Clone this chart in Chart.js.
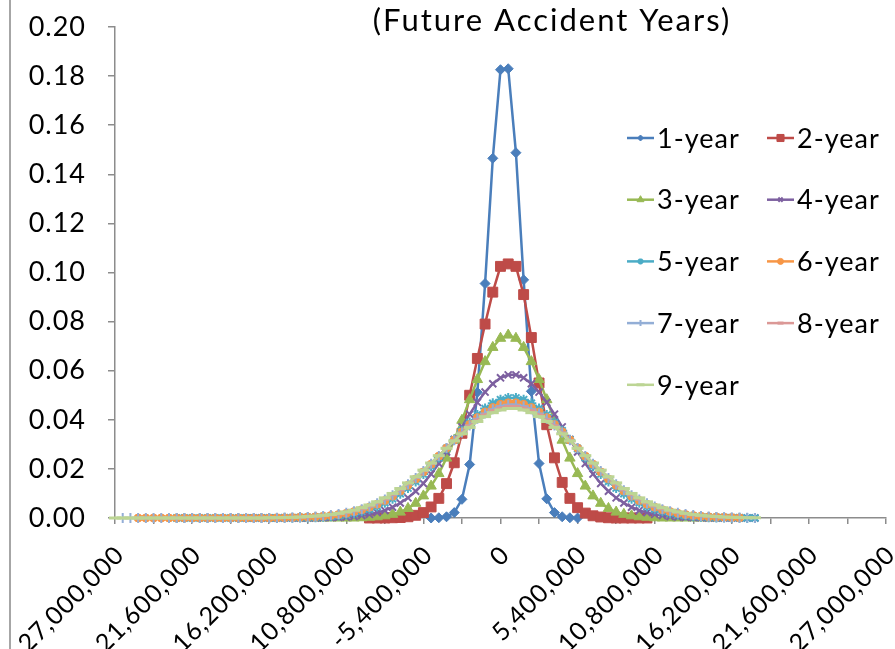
<!DOCTYPE html>
<html>
<head>
<meta charset="utf-8">
<script src="https://cdn.jsdelivr.net/npm/chart.js@4/dist/chart.umd.min.js"></script>
<style>
  html, body { margin: 0; padding: 0; background: #fff; }
  canvas { display: block; }
</style>
</head>
<body>
<canvas id="c" width="895" height="649"></canvas>
<script>
// Shared x grid: loss outcomes in steps of 540,000
const xs = [
  -27000000, -26460000, -25920000, -25380000, -24840000, -24300000, -23760000, -23220000, -22680000, -22140000,
  -21600000, -21060000, -20520000, -19980000, -19440000, -18900000, -18360000, -17820000, -17280000, -16740000,
  -16200000, -15660000, -15120000, -14580000, -14040000, -13500000, -12960000, -12420000, -11880000, -11340000,
  -10800000, -10260000, -9720000, -9180000, -8640000, -8100000, -7560000, -7020000, -6480000, -5940000,
  -5400000, -4860000, -4320000, -3780000, -3240000, -2700000, -2160000, -1620000, -1080000, -540000,
  0, 540000, 1080000, 1620000, 2160000, 2700000, 3240000, 3780000, 4320000, 4860000,
  5400000, 5940000, 6480000, 7020000, 7560000, 8100000, 8640000, 9180000, 9720000, 10260000,
  10800000, 11340000, 11880000, 12420000, 12960000, 13500000, 14040000, 14580000, 15120000, 15660000,
  16200000, 16740000, 17280000, 17820000
];

const seriesNames = ['1-year', '2-year', '3-year', '4-year', '5-year', '6-year', '7-year', '8-year', '9-year'];

// First x value covered by each series
const firstX = [-4860000, -9180000, -14040000, -17820000, -22680000, -25380000, -26460000, -25380000, -27000000];

const year1 = [0, 0.0001, 0.0005, 0.0022, 0.0076, 0.0218, 0.0512, 0.0955, 0.1465, 0.1826, 0.1830, 0.1488, 0.0970, 0.0516, 0.0222, 0.0078, 0.0022, 0.0005, 0.0001, 0];

const year2 = [0, 0, 0, 0.0001, 0.0002, 0.0005, 0.0011, 0.0022, 0.0045, 0.0080, 0.0140, 0.0225, 0.0345, 0.0500, 0.0650, 0.0790, 0.0920, 0.1025, 0.1035, 0.1025,
  0.0910, 0.0735, 0.0550, 0.0380, 0.0245, 0.0145, 0.0080, 0.0042, 0.0020, 0.0009, 0.0004, 0.0001, 0, 0, 0, 0, 0];

const year3 = [0, 0, 0, 0, 0, 0, 0, 0,
  0.0001, 0.0003, 0.0005, 0.0009, 0.0015, 0.0024, 0.0039, 0.0060, 0.0090, 0.0130, 0.0181, 0.0244, 0.0317, 0.0398, 0.0482, 0.0564, 0.0637, 0.0695, 0.0732, 0.0745,
  0.0732, 0.0695, 0.0637, 0.0564, 0.0482, 0.0398, 0.0317, 0.0244, 0.0181, 0.0130, 0.0090, 0.0060, 0.0039, 0.0024, 0.0015, 0.0009, 0.0005, 0.0003, 0.0001,
  0, 0, 0, 0, 0, 0, 0, 0];

const year4 = [0, 0, 0, 0, 0, 0, 0, 0, 0, 0,
  0.0001, 0.0002, 0.0003, 0.0004, 0.0006, 0.0010, 0.0015, 0.0022, 0.0031, 0.0044, 0.0061, 0.0082, 0.0109, 0.0141, 0.0179, 0.0222, 0.0269, 0.0320, 0.0371, 0.0423, 0.0471, 0.0513, 0.0547, 0.0571, 0.0583,
  0.0583, 0.0571, 0.0547, 0.0513, 0.0471, 0.0423, 0.0371, 0.0320, 0.0269, 0.0222, 0.0179, 0.0141, 0.0109, 0.0082, 0.0061, 0.0044, 0.0031, 0.0022, 0.0015, 0.0010, 0.0006, 0.0004, 0.0003, 0.0002, 0.0001,
  0, 0, 0, 0, 0, 0, 0];

const year5 = [0, 0, 0, 0, 0, 0, 0, 0, 0, 0, 0, 0, 0, 0,
  0.0001, 0.0001, 0.0002, 0.0002, 0.0003, 0.0005, 0.0007, 0.0010, 0.0014, 0.0020, 0.0027, 0.0036, 0.0047, 0.0062, 0.0078, 0.0099, 0.0122, 0.0149, 0.0179, 0.0211, 0.0246, 0.0283, 0.0319, 0.0355, 0.0389, 0.0420, 0.0446, 0.0467, 0.0482, 0.0489,
  0.0489, 0.0482, 0.0467, 0.0446, 0.0420, 0.0389, 0.0355, 0.0319, 0.0283, 0.0246, 0.0211, 0.0179, 0.0149, 0.0122, 0.0099, 0.0078, 0.0062, 0.0047, 0.0036, 0.0027, 0.0020, 0.0014, 0.0010, 0.0007, 0.0005, 0.0003, 0.0002, 0.0002, 0.0001, 0.0001,
  0, 0];

const year6 = [0, 0, 0, 0, 0, 0, 0, 0, 0, 0, 0, 0, 0, 0, 0, 0, 0, 0,
  0.0001, 0.0001, 0.0002, 0.0003, 0.0004, 0.0005, 0.0007, 0.0010, 0.0014, 0.0019, 0.0026, 0.0034, 0.0044, 0.0056, 0.0071, 0.0089, 0.0110, 0.0133, 0.0159, 0.0188, 0.0219, 0.0252, 0.0285, 0.0318, 0.0351, 0.0381, 0.0409, 0.0432, 0.0450, 0.0463, 0.0469,
  0.0469, 0.0463, 0.0450, 0.0432, 0.0409, 0.0381, 0.0351, 0.0318, 0.0285, 0.0252, 0.0219, 0.0188, 0.0159, 0.0133, 0.0110, 0.0089, 0.0071, 0.0056, 0.0044, 0.0034, 0.0026, 0.0019, 0.0014, 0.0010, 0.0007, 0.0005, 0.0004, 0.0003, 0.0002, 0.0001];

const year7 = [0, 0, 0, 0, 0, 0, 0, 0, 0, 0, 0, 0, 0, 0, 0, 0, 0, 0, 0, 0,
  0.0001, 0.0001, 0.0002, 0.0003, 0.0004, 0.0006, 0.0008, 0.0012, 0.0016, 0.0021, 0.0028, 0.0036, 0.0047, 0.0060, 0.0075, 0.0093, 0.0113, 0.0137, 0.0163, 0.0191, 0.0221, 0.0253, 0.0285, 0.0317, 0.0348, 0.0377, 0.0404, 0.0426, 0.0443, 0.0455, 0.0461,
  0.0461, 0.0455, 0.0443, 0.0426, 0.0404, 0.0377, 0.0348, 0.0317, 0.0285, 0.0253, 0.0221, 0.0191, 0.0163, 0.0137, 0.0113, 0.0093, 0.0075, 0.0060, 0.0047, 0.0036, 0.0028, 0.0021, 0.0016, 0.0012, 0.0008, 0.0006, 0.0004, 0.0003, 0.0002, 0.0001, 0.0001, 0];

const year8 = [0, 0, 0, 0, 0, 0, 0, 0, 0, 0, 0, 0, 0, 0, 0, 0, 0,
  0.0001, 0.0001, 0.0002, 0.0002, 0.0003, 0.0005, 0.0007, 0.0009, 0.0013, 0.0017, 0.0023, 0.0030, 0.0039, 0.0050, 0.0063, 0.0078, 0.0097, 0.0117, 0.0140, 0.0166, 0.0194, 0.0223, 0.0254, 0.0285, 0.0316, 0.0346, 0.0374, 0.0399, 0.0420, 0.0437, 0.0448, 0.0455,
  0.0455, 0.0448, 0.0437, 0.0420, 0.0399, 0.0374, 0.0346, 0.0316, 0.0285, 0.0254, 0.0223, 0.0194, 0.0166, 0.0140, 0.0117, 0.0097, 0.0078, 0.0063, 0.0050, 0.0039, 0.0030, 0.0023, 0.0017, 0.0013, 0.0009, 0.0007, 0.0005, 0.0003, 0.0002, 0.0002];

const year9 = [0, 0, 0, 0, 0, 0, 0, 0, 0, 0, 0, 0, 0, 0, 0, 0, 0, 0, 0, 0,
  0.0001, 0.0001, 0.0002, 0.0003, 0.0004, 0.0006, 0.0008, 0.0011, 0.0014, 0.0019, 0.0025, 0.0032, 0.0042, 0.0053, 0.0066, 0.0082, 0.0100, 0.0120, 0.0143, 0.0168, 0.0195, 0.0224, 0.0254, 0.0284, 0.0314, 0.0343, 0.0369, 0.0393, 0.0413, 0.0429, 0.0440, 0.0446,
  0.0446, 0.0440, 0.0429, 0.0413, 0.0393, 0.0369, 0.0343, 0.0314, 0.0284, 0.0254, 0.0224, 0.0195, 0.0168, 0.0143, 0.0120, 0.0100, 0.0082, 0.0066, 0.0053, 0.0042, 0.0032, 0.0025, 0.0019, 0.0014, 0.0011, 0.0008, 0.0006, 0.0004, 0.0003, 0.0002, 0.0001, 0.0001];

const seriesValues = [year1, year2, year3, year4, year5, year6, year7, year8, year9];

const xTickLabels = ['-27,000,000', '-21,600,000', '-16,200,000', '-10,800,000', '-5,400,000', '0',
  '5,400,000', '10,800,000', '16,200,000', '21,600,000', '27,000,000'];
const yTickLabels = ['0.00', '0.02', '0.04', '0.06', '0.08', '0.10', '0.12', '0.14', '0.16', '0.18', '0.20'];

const titleText = '(Future Accident Years)';

// Line colour, marker shape, marker radius and marker stroke for each series
const seriesStyle = [
  { color: '#4A7EBB', shape: 'rectRot',  radius: 5,   stroke: 1 },
  { color: '#BE4B48', shape: 'rect',     radius: 7,   stroke: 1 },
  { color: '#98B954', shape: 'triangle', radius: 6,   stroke: 1 },
  { color: '#7D60A0', shape: 'crossRot', radius: 5,   stroke: 2 },
  { color: '#4BACC6', shape: 'star',     radius: 5,   stroke: 2 },
  { color: '#F79646', shape: 'circle',   radius: 4,   stroke: 1 },
  { color: '#93AED6', shape: 'cross',    radius: 5,   stroke: 2 },
  { color: '#DB9896', shape: 'line',     radius: 4,   stroke: 3 },
  { color: '#BCD594', shape: 'line',     radius: 6,   stroke: 3 }
];

const axisGray = '#8C8C8C';
const FONT = 'Lato, "Open Sans", sans-serif';

Chart.defaults.font.family = FONT;
Chart.defaults.color = '#000';

const datasets = seriesValues.map((vals, i) => {
  const s = seriesStyle[i];
  const start = xs.indexOf(firstX[i]);
  return {
    label: seriesNames[i],
    data: vals.map((v, j) => ({ x: xs[start + j], y: v })),
    borderColor: s.color,
    backgroundColor: s.color,
    pointBackgroundColor: s.color,
    pointBorderColor: s.color,
    pointBorderWidth: s.stroke,
    pointStyle: s.shape,
    pointRadius: s.radius,
    borderWidth: 2.5,
    tension: 0,
    fill: false,
    clip: false,
    order: seriesValues.length - i
  };
});

// Outer frame edge, title line and the two-column legend
const decor = {
  id: 'decor',
  beforeDraw(chart) {
    const ctx = chart.ctx;
    ctx.letterSpacing = '1px';
    ctx.save();
    ctx.strokeStyle = '#A6A6A6';
    ctx.lineWidth = 2;
    ctx.beginPath();
    ctx.moveTo(10, 0);
    ctx.lineTo(10, chart.height);
    ctx.stroke();
    ctx.restore();
  },
  afterDraw(chart) {
    const ctx = chart.ctx;
    ctx.save();
    ctx.fillStyle = '#000';
    ctx.font = '31px ' + FONT;
    ctx.letterSpacing = '2px';
    ctx.textAlign = 'center';
    ctx.textBaseline = 'middle';
    ctx.fillText(titleText, 552, 21);

    ctx.font = '27px ' + FONT;
    ctx.letterSpacing = '1px';
    chart.data.datasets.forEach((ds, i) => {
      const s = seriesStyle[i];
      const col = i % 2, row = Math.floor(i / 2);
      const x0 = col ? 767 : 627;
      const y = 138 + row * 61.7;
      ctx.strokeStyle = s.color;
      ctx.lineWidth = 2.5;
      ctx.beginPath();
      ctx.moveTo(x0, y);
      ctx.lineTo(x0 + 27, y);
      ctx.stroke();
      ctx.fillStyle = s.color;
      ctx.strokeStyle = s.color;
      ctx.lineWidth = s.stroke;
      Chart.helpers.drawPoint(ctx, {
        pointStyle: s.shape,
        radius: Math.max(3, s.radius - 2),
        rotation: 0,
        borderWidth: s.stroke
      }, x0 + 13.5, y);
      ctx.fillStyle = '#000';
      ctx.textAlign = 'left';
      ctx.textBaseline = 'middle';
      ctx.fillText(ds.label, x0 + 30, y + 1);
    });
    ctx.restore();
  }
};

new Chart(document.getElementById('c'), {
  type: 'line',
  data: { datasets },
  options: {
    responsive: false,
    animation: false,
    devicePixelRatio: 1,
    events: [],
    layout: { padding: { left: 0, right: 5, top: 27, bottom: 0 } },
    plugins: {
      legend: { display: false },
      title: { display: false },
      tooltip: { enabled: false }
    },
    scales: {
      x: {
        type: 'linear',
        min: -27000000,
        max: 27000000,
        border: { display: true, color: axisGray, width: 1.5 },
        grid: { display: true, drawOnChartArea: false, drawTicks: true, tickLength: 6, color: axisGray, lineWidth: 1.5 },
        ticks: {
          stepSize: 2700000,
          autoSkip: false,
          minRotation: 45,
          maxRotation: 45,
          padding: 16,
          labelOffset: 5,
          font: { size: 25 },
          callback: (v, i) => (i % 2 === 0 ? xTickLabels[i / 2] : '')
        },
        afterFit: (s) => {
          s.height = 131;
          s.paddingLeft = 0;
          s.paddingRight = 0;
        }
      },
      y: {
        min: 0,
        max: 0.2,
        border: { display: true, color: axisGray, width: 1.5 },
        grid: { display: true, drawOnChartArea: false, drawTicks: true, tickLength: 7, color: axisGray, lineWidth: 1.5 },
        ticks: {
          stepSize: 0.02,
          padding: 22,
          font: { size: 27 },
          callback: (v, i) => yTickLabels[i]
        },
        afterFit: (s) => {
          s.width = 115;
          s.paddingTop = 0;
          s.paddingBottom = 0;
        }
      }
    }
  },
  plugins: [decor]
});
</script>
</body>
</html>
